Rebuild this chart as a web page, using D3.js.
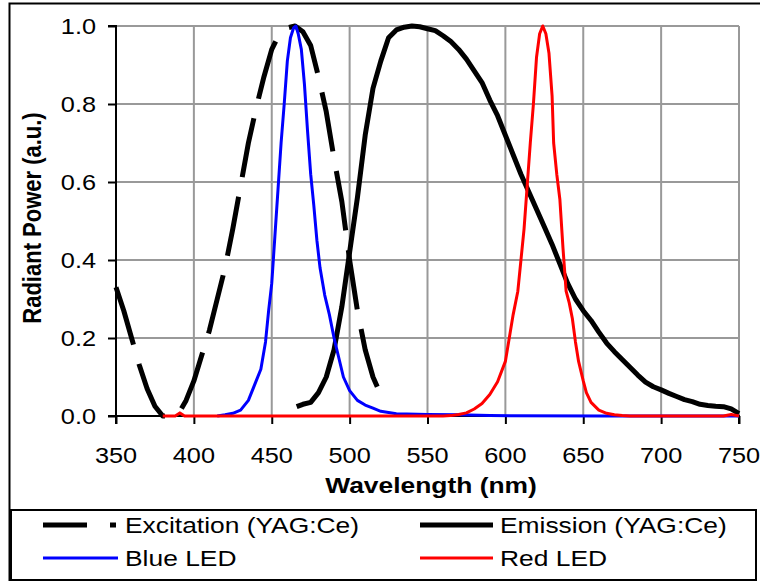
<!DOCTYPE html>
<html><head><meta charset="utf-8">
<script src="https://cdn.jsdelivr.net/npm/d3@7/dist/d3.min.js"></script>
<style>
body{margin:0;background:#fff}
svg{display:block}
text{font-family:Arial,"Liberation Sans",sans-serif;fill:#000}
</style>
</head><body>
<svg id="chart" width="760" height="581"></svg>
<script>
// ---- data ----
const xTicks = [350, 400, 450, 500, 550, 600, 650, 700, 750];
const yTicks = [0.0, 0.2, 0.4, 0.6, 0.8, 1.0];
const xTitle = "Wavelength (nm)";
const yTitle = "Radiant Power (a.u.)";
const seriesNames = ["Excitation (YAG:Ce)", "Emission (YAG:Ce)", "Blue LED", "Red LED"];

const excitationWl  = [350,355,360,365,370,375,380,385,390,395,400,405,410,415,420,425,430,435,440,445,450,455,460,465,470,475,480,485,490,495,500,505,510,515,520,523];
const excitationVal = [0.33,0.27,0.20,0.13,0.07,0.025,0.0,0.0,0.005,0.04,0.09,0.155,0.22,0.30,0.38,0.48,0.59,0.70,0.79,0.87,0.94,0.98,0.995,1.0,0.985,0.95,0.87,0.78,0.66,0.55,0.40,0.27,0.17,0.10,0.055,0.035];

const emissionWl  = [466,470,475,480,485,490,495,500,505,510,515,520,525,530,535,540,545,550,555,560,565,570,575,580,585,590,595,600,605,610,615,620,625,630,635,640,645,650,655,660,665,670,675,680,685,690,695,700,705,710,715,720,725,730,735,740,745,750];
const emissionVal = [0.024,0.03,0.035,0.06,0.10,0.17,0.28,0.42,0.56,0.72,0.84,0.91,0.97,0.99,0.997,1.0,0.998,0.993,0.988,0.975,0.96,0.94,0.915,0.885,0.855,0.81,0.77,0.72,0.67,0.62,0.575,0.53,0.485,0.44,0.39,0.34,0.30,0.27,0.245,0.215,0.187,0.165,0.145,0.125,0.105,0.087,0.075,0.067,0.058,0.05,0.042,0.037,0.03,0.027,0.025,0.024,0.018,0.006];

const blueWl  = [415,420,425,430,435,440,443,446,448,450,452,454,456,458,460,462,464,465.5,467,469,471,473,475,477,479,481,484,487,490,493,496,500,505,510,515,520,525,530,550,570,590,665,750];
const blueVal = [0,0.003,0.007,0.015,0.04,0.09,0.12,0.19,0.27,0.34,0.46,0.58,0.70,0.80,0.91,0.97,0.995,1.0,0.98,0.94,0.85,0.73,0.62,0.54,0.45,0.38,0.31,0.26,0.20,0.15,0.10,0.065,0.04,0.028,0.02,0.012,0.009,0.006,0.004,0.003,0.001,0,0];

const redWl  = [380,388,391,394,400,560,565,570,575,580,585,590,595,600,605,608,610,612,614,616,618,620,622,624,626,628,630,631,633,635,637,639,641,643,645,647,650,652,655,660,665,670,675,680,740,745,750];
const redVal = [0,0,0.008,0,0,0,0.001,0.004,0.008,0.018,0.032,0.055,0.088,0.14,0.26,0.32,0.40,0.48,0.59,0.70,0.80,0.92,0.98,1.0,0.98,0.93,0.82,0.70,0.62,0.555,0.43,0.32,0.29,0.25,0.19,0.14,0.09,0.06,0.035,0.015,0.007,0.003,0.001,0,0,0.004,0];

// ---- layout ----
const svg = d3.select("#chart");
const plot = {left: 116, right: 739, top: 26, bottom: 416};
const x = d3.scaleLinear().domain([350, 750]).range([plot.left, plot.right]);
const y = d3.scaleLinear().domain([0, 1]).range([plot.bottom, plot.top]);

function stretchedText(g, str, px, py, anchor, size, weight, sx) {
  return g.append("text")
    .attr("transform", `translate(${px},${py}) scale(${sx || 1.2},1)`)
    .attr("text-anchor", anchor)
    .style("font-size", size + "px")
    .style("font-weight", weight || "normal")
    .text(str);
}

// outer chart border
svg.append("rect").attr("x", 9.5).attr("y", 3.5).attr("width", 800).attr("height", 620)
  .attr("fill", "none").attr("stroke", "#000").attr("stroke-width", 2);

// grid
const grid = svg.append("g");
grid.selectAll("line.v").data(xTicks.slice(1)).join("line")
  .attr("x1", d => x(d)).attr("x2", d => x(d)).attr("y1", plot.top).attr("y2", plot.bottom)
  .attr("stroke", "#999").attr("stroke-width", 2);
grid.selectAll("line.h").data(yTicks.slice(1)).join("line")
  .attr("y1", d => y(d)).attr("y2", d => y(d)).attr("x1", plot.left).attr("x2", plot.right)
  .attr("stroke", "#999").attr("stroke-width", 2);

// axes
const xAxis = d3.axisBottom(x).tickValues(xTicks).tickSize(8).tickFormat("");
const yAxis = d3.axisLeft(y).tickValues(yTicks).tickSize(8).tickFormat("");
const gx = svg.append("g").attr("transform", `translate(0,${plot.bottom})`).call(xAxis);
const gy = svg.append("g").attr("transform", `translate(${plot.left},0)`).call(yAxis);
[gx, gy].forEach(g => {
  g.select(".domain").attr("stroke", "#000").attr("stroke-width", 2);
  g.selectAll(".tick line").attr("stroke", "#000").attr("stroke-width", 2);
});
gy.select(".domain").attr("d", `M-8,${plot.bottom}H0V${plot.top}H-8`);
gx.select(".domain").attr("d", `M${plot.left},8V0H${plot.right}V8`);

// tick labels
const labels = svg.append("g");
xTicks.forEach(t => stretchedText(labels, String(t), x(t), 463, "middle", 22, "normal", 1.15));
yTicks.forEach(t => stretchedText(labels, d3.format(".1f")(t), 96, y(t) + 8, "end", 22, "normal", 1.15));

// titles
stretchedText(svg, xTitle, 431, 493, "middle", 22, "bold", 1.2);
svg.append("text")
  .attr("transform", `translate(41,218) scale(1.2,1) rotate(-90)`)
  .attr("text-anchor", "middle").style("font-size", "22px").style("font-weight", "bold")
  .text(yTitle);

// series
const line = d3.line().x(d => x(d[0])).y(d => y(d[1]));
const zip = (a, b) => a.map((v, i) => [v, b[i]]);
const series = [
  {name: seriesNames[0], pts: zip(excitationWl, excitationVal), color: "#000", width: 5, dash: "60,20"},
  {name: seriesNames[1], pts: zip(emissionWl, emissionVal), color: "#000", width: 5, dash: null},
  {name: seriesNames[2], pts: zip(blueWl, blueVal), color: "#0000ff", width: 3, dash: null},
  {name: seriesNames[3], pts: zip(redWl, redVal), color: "#ff0000", width: 3, dash: null}
];
svg.append("g").selectAll("path").data(series).join("path")
  .attr("d", d => line(d.pts))
  .attr("fill", "none")
  .attr("stroke", d => d.color)
  .attr("stroke-width", d => d.width)
  .attr("stroke-dasharray", d => d.dash)
  .attr("stroke-linejoin", "round");

// legend
const lg = svg.append("g");
lg.append("rect").attr("x", 11).attr("y", 510).attr("width", 745).attr("height", 70)
  .attr("fill", "#fff").attr("stroke", "#000").attr("stroke-width", 2);
const legendItems = [
  {s: series[0], x0: 43, x1: 116, row: 0, dash: "44,23"},
  {s: series[1], x0: 420, x1: 493, row: 0, dash: null},
  {s: series[2], x0: 43, x1: 118, row: 1, dash: null},
  {s: series[3], x0: 420, x1: 493, row: 1, dash: null}
];
const rowY = [525, 558];
legendItems.forEach(it => {
  lg.append("line").attr("x1", it.x0).attr("x2", it.x1)
    .attr("y1", rowY[it.row]).attr("y2", rowY[it.row])
    .attr("stroke", it.s.color).attr("stroke-width", it.s.width)
    .attr("stroke-dasharray", it.dash);
  stretchedText(lg, it.s.name, it.x1 + (it.row === 0 && it.x0 === 43 ? 9 : 7), rowY[it.row] + 8, "start", 22, "normal", 1.2);
});
</script>
</body></html>
